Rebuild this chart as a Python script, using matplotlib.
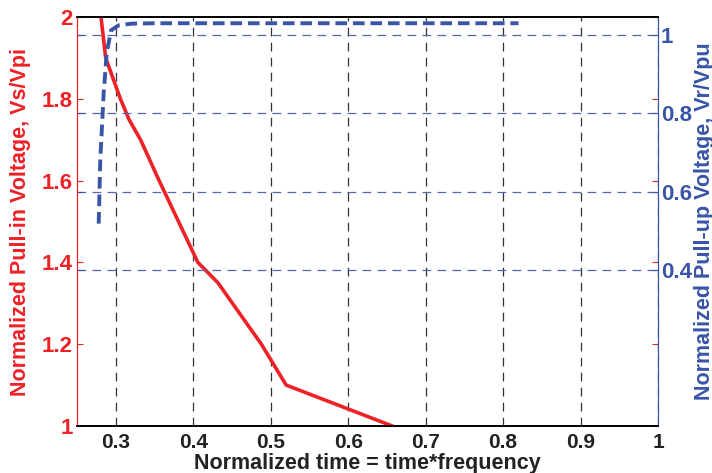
import matplotlib
matplotlib.use("Agg")
from matplotlib import pyplot as plt

# pull-in curve (left axis)
t_in = [0.281, 0.287, 0.306, 0.317, 0.332, 0.356, 0.381, 0.406, 0.432, 0.488, 0.520, 0.657]
v_in = [2.0, 1.9, 1.8, 1.75, 1.7, 1.6, 1.5, 1.4, 1.35, 1.2, 1.1, 1.0]

# pull-up curve (right axis)
t_up = [0.278, 0.280, 0.2844, 0.2883, 0.2939, 0.304, 0.321, 0.35, 0.45, 0.60, 0.82]
v_up = [0.518, 0.679, 0.851, 0.954, 1.013, 1.026, 1.030, 1.031, 1.031, 1.031, 1.031]

x_ticks = [0.3, 0.4, 0.5, 0.6, 0.7, 0.8, 0.9, 1.0]
x_labels = ["0.3", "0.4", "0.5", "0.6", "0.7", "0.8", "0.9", "1"]
left_ticks = [1.0, 1.2, 1.4, 1.6, 1.8, 2.0]
left_labels = ["1", "1.2", "1.4", "1.6", "1.8", "2"]
right_ticks = [0.4, 0.6, 0.8, 1.0]
right_labels = ["0.4", "0.6", "0.8", "1"]

RED = "#ee2127"
BLUE = "#3a55a6"

plt.rcParams["font.family"] = ["Liberation Sans", "DejaVu Sans"]
plt.rcParams["font.weight"] = "bold"

fig = plt.figure(figsize=(7.12, 4.73), dpi=100)
ax1 = fig.add_axes([77 / 712, 1 - 426 / 473, 581 / 712, 409 / 473])
ax2 = ax1.twinx()

# grid: vertical black dashes, horizontal blue dashes at right ticks
for x in x_ticks:
    ax1.axvline(x, color="#333333", lw=0.9, ls=(0, (7, 5)), zorder=1)
for y in right_ticks:
    ax2.axhline(y, color="#5565b0", lw=0.9, ls=(0, (7, 5)), zorder=1)

ax1.plot(t_in, v_in, color=RED, lw=2.6, zorder=3)
ax2.plot(t_up, v_up, color=BLUE, lw=2.8, ls=(0, (3, 1.5)), zorder=3)

ax1.set_xlim(0.25, 1.0)
ax1.set_ylim(1.0, 2.0)
ax2.set_ylim(0.0, 1.047)

ax1.set_xticks(x_ticks)
ax1.set_xticklabels(x_labels, fontsize=15, fontweight="bold", color="#222222")
ax1.set_yticks(left_ticks)
ax1.set_yticklabels(left_labels, fontsize=16, fontweight="bold", color=RED)
ax2.set_yticks(right_ticks)
ax2.set_yticklabels(right_labels, fontsize=16, fontweight="bold", color=BLUE)

ax1.tick_params(axis="x", direction="in", length=0, pad=5)
ax1.tick_params(axis="y", direction="in", length=4, right=True, colors=RED, pad=3)
ax2.tick_params(axis="y", direction="in", length=4, left=True, colors=BLUE, pad=2)

for ax in (ax1, ax2):
    ax.spines["top"].set_color("black")
    ax.spines["bottom"].set_color("black")
    ax.spines["left"].set_color(RED)
    ax.spines["right"].set_color(BLUE)
    ax.spines["bottom"].set_linewidth(1.2)
    ax.spines["top"].set_linewidth(1.2)

ax1.set_xlabel("Normalized time = time*frequency", fontsize=15.5, fontweight="bold",
               color="#222222", va="center")
ax1.xaxis.set_label_coords(0.5, -0.091)
ax1.set_ylabel("Normalized Pull-in Voltage, Vs/Vpi", fontsize=15.5, fontweight="bold",
               color=RED, va="center")
ax1.yaxis.set_label_coords(-0.098, 0.5)
ax2.set_ylabel("Normalized Pull-up Voltage, Vr/Vpu", fontsize=15.5, fontweight="bold",
               color=BLUE, rotation=90, va="center")
ax2.yaxis.set_label_coords(1.08, 0.5)

fig.savefig("out.png", dpi=100)
